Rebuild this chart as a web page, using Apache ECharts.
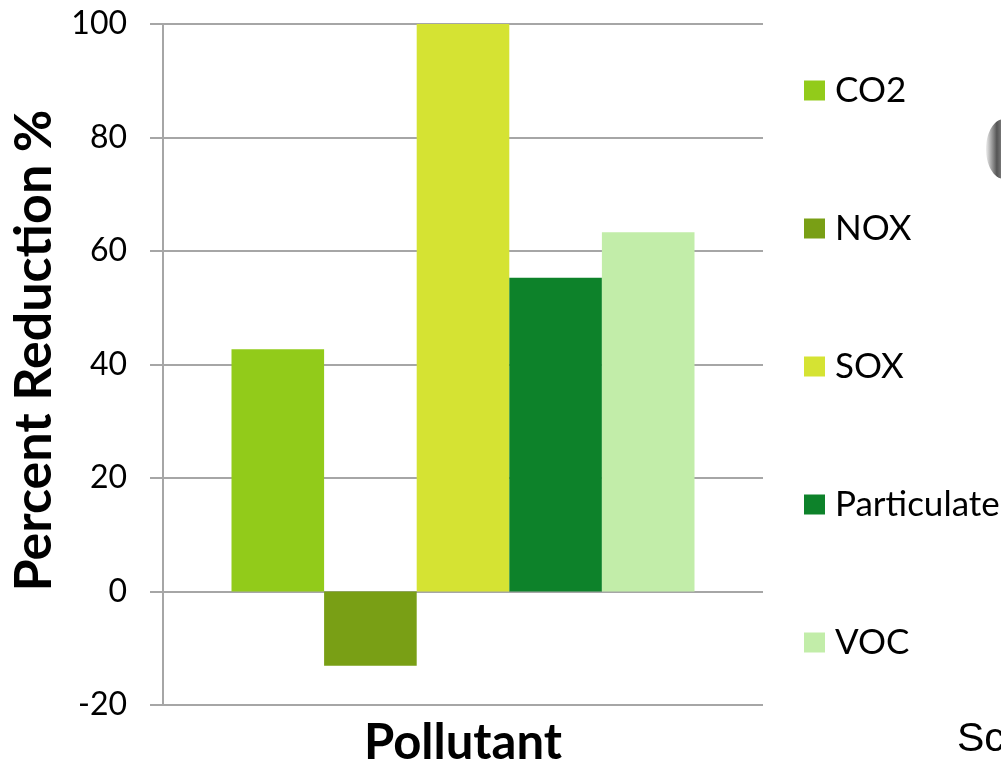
<!DOCTYPE html>
<html>
<head>
<meta charset="utf-8">
<script src="https://cdn.jsdelivr.net/npm/echarts@6/dist/echarts.min.js"></script>
<style>
  html, body { margin: 0; padding: 0; background: #fff; }
  #chart { width: 1001px; height: 764px; }
</style>
</head>
<body>
<div id="chart"></div>
<script>
// Emission reductions by pollutant (percent)
const pollutants = ['CO2', 'NOX', 'SOX', 'Particulate', 'VOC'];
const reductions = [42.7, -13.1, 100, 55.3, 63.3];
const barColors = ['#92cb1a', '#799f15', '#d5e333', '#0d822a', '#c2eda9'];
const yTicks = { min: -20, max: 100, step: 20 };
const categoryName = 'Pollutant';
const valueName = 'Percent Reduction %';

const gridColor = '#a6a6a6';
const chart = echarts.init(document.getElementById('chart'));

const series = pollutants.map((name, i) => ({
  name: name,
  type: 'bar',
  data: [reductions[i]],
  barWidth: 92.6,
  barGap: '0%',
  itemStyle: { color: barColors[i] }
}));

chart.setOption({
  animation: false,
  backgroundColor: '#ffffff',
  grid: {
    left: 163, right: 238, top: 24, bottom: 59,
    containLabel: false,
    outerBoundsMode: 'none'
  },
  xAxis: {
    type: 'category',
    data: [categoryName],
    name: categoryName,
    nameLocation: 'middle',
    nameGap: 14,
    nameMoveOverlap: false,
    nameTextStyle: { fontFamily: 'Lato', fontWeight: 'bold', fontSize: 49, color: '#000' },
    axisLine: { show: false, onZero: false },
    axisTick: { show: false },
    axisLabel: { show: false }
  },
  yAxis: {
    type: 'value',
    min: yTicks.min,
    max: yTicks.max,
    interval: yTicks.step,
    name: valueName,
    nameLocation: 'middle',
    nameRotate: 90,
    nameGap: 103,
    nameMoveOverlap: false,
    nameTextStyle: { fontFamily: 'Lato', fontWeight: 'bold', fontSize: 52, color: '#000', padding: [0, 0, 0, 28] },
    axisLine: { show: true, lineStyle: { color: gridColor, width: 2 } },
    axisTick: { show: true, length: 13, lineStyle: { color: gridColor, width: 2 } },
    axisLabel: { margin: 36, fontFamily: 'Lato', fontSize: 32, color: '#000' },
    splitLine: { show: true, lineStyle: { color: gridColor, width: 2 } }
  },
  legend: {
    orient: 'vertical',
    left: 804,
    top: 73,
    padding: 0,
    itemWidth: 21,
    itemHeight: 20,
    itemGap: 103,
    icon: 'rect',
    selectedMode: false,
    textStyle: { fontFamily: 'Lato', fontSize: 35, color: '#000', padding: [0, 0, 0, 5] },
    data: pollutants
  },
  graphic: [
    {
      type: 'ellipse',
      shape: { cx: 1004, cy: 149, rx: 18, ry: 30 },
      style: {
        fill: {
          type: 'linear', x: 0, y: 0, x2: 1, y2: 0,
          colorStops: [
            { offset: 0, color: '#eeeeee' },
            { offset: 0.3, color: '#555555' },
            { offset: 0.55, color: '#9a9a9a' },
            { offset: 0.8, color: '#2e2e2e' },
            { offset: 1, color: '#777777' }
          ]
        }
      },
      z: 10
    },
    {
      type: 'text',
      left: 957,
      top: 719,
      style: { text: 'Sc', font: '41px "Liberation Sans"', fill: '#000' },
      z: 10
    }
  ],
  series: series
});
</script>
</body>
</html>
